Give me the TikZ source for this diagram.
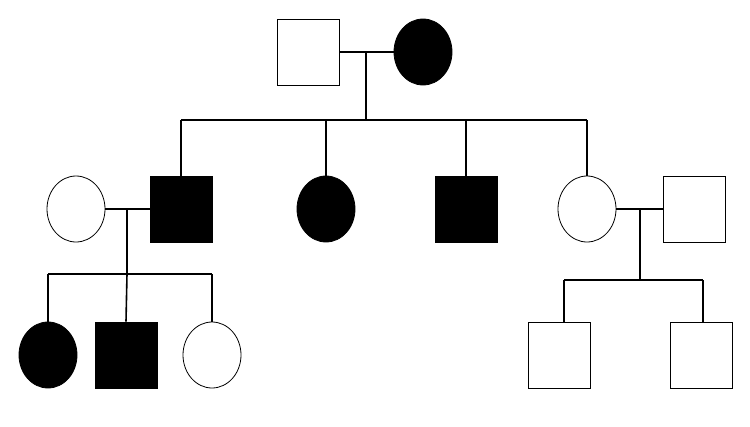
\documentclass[tikz,border=0pt]{standalone}
\begin{document}
\begin{tikzpicture}[x=1pt,y=-1pt,line width=1.6pt,
 sq/.style={draw,line width=0.8pt,minimum width=62pt,minimum height=66pt,inner sep=0pt},
 ci/.style={draw,line width=0.8pt,ellipse,minimum width=58pt,minimum height=66pt,inner sep=0pt},
 aff/.style={fill=black}]
\useasboundingbox (0,0) rectangle (750,426);
\usetikzlibrary{shapes.geometric}
\node[sq] (gf) at (308,52) {};
\node[ci,aff] (gm) at (423,52) {};
\node[ci] (w1) at (76,209) {};
\node[sq,aff] (s1) at (181,209) {};
\node[ci,aff] (d1) at (326,209) {};
\node[sq,aff] (s2) at (466,209) {};
\node[ci] (d2) at (587,209) {};
\node[sq] (h2) at (694,209) {};
\node[ci,aff] (c1) at (48,355) {};
\node[sq,aff] (c2) at (126,355) {};
\node[ci] (c3) at (212,355) {};
\node[sq] (c4) at (559,355) {};
\node[sq] (c5) at (701,355) {};
\coordinate (m0) at (366,52);
\coordinate (m1) at (127,209);
\coordinate (m2) at (640,209);
\draw (gf.east) -- (gm.west);
\draw (m0) -- (366,120);
\draw (181,120) -- (587,120);
\draw (181,120) -- (s1.north);
\draw (326,120) -- (d1.north);
\draw (466,120) -- (s2.north);
\draw (587,120) -- (d2.north);
\draw (w1.east) -- (s1.west);
\draw (m1) -- (127,274);
\draw (48,274) -- (212,274);
\draw (48,274) -- (c1.north);
\draw (127,274) -- (c2.north);
\draw (212,274) -- (c3.north);
\draw (d2.east) -- (h2.west);
\draw (m2) -- (640,280);
\draw (564,280) -- (703,280);
\draw (564,280) -- (564,322);
\draw (703,280) -- (703,322);
\end{tikzpicture}
\end{document}
